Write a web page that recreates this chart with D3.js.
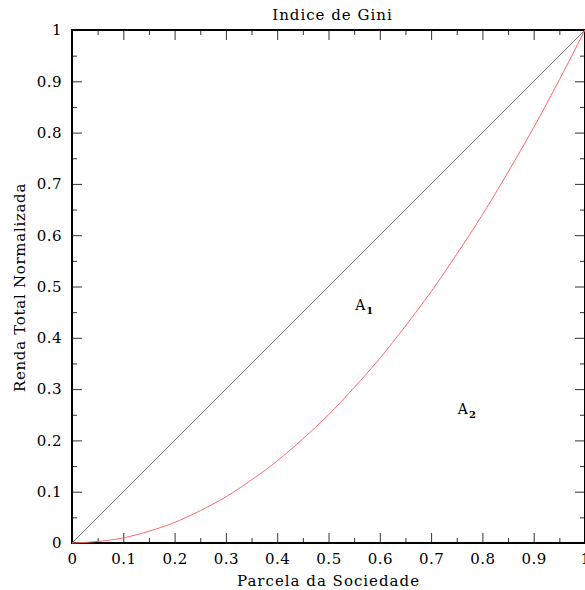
<!DOCTYPE html>
<html>
<head>
<meta charset="utf-8">
<script src="https://cdn.jsdelivr.net/npm/d3@7"></script>
<style>
  html, body { margin: 0; padding: 0; background: #fff; }
</style>
</head>
<body>
<svg id="chart" width="585" height="590"></svg>
<script>
// Cumulative share of population (x) and of total income (y)
const populationShare = [0, 0.05, 0.1, 0.15, 0.2, 0.25, 0.3, 0.35, 0.4, 0.45, 0.5,
                         0.55, 0.6, 0.65, 0.7, 0.75, 0.8, 0.85, 0.9, 0.95, 1];
const incomeShare = [0, 0.003, 0.01, 0.023, 0.04, 0.063, 0.09, 0.123, 0.16, 0.203, 0.25,
                     0.303, 0.36, 0.423, 0.49, 0.563, 0.64, 0.723, 0.81, 0.903, 1];
// Line of perfect equality
const equalityX = [0, 1];
const equalityY = [0, 1];

const majorTicks = [0, 0.1, 0.2, 0.3, 0.4, 0.5, 0.6, 0.7, 0.8, 0.9, 1];
const minorTicks = [0.05, 0.15, 0.25, 0.35, 0.45, 0.55, 0.65, 0.75, 0.85, 0.95];
const tickLabels = ["0", "0.1", "0.2", "0.3", "0.4", "0.5", "0.6", "0.7", "0.8", "0.9", "1"];

const areaLabels = [
  { name: "A", sub: "1", x: 0.552, y: 0.455 },
  { name: "A", sub: "2", x: 0.752, y: 0.252 }
];

const FONT = "'DejaVu Serif', serif";

const svg = d3.select("#chart");
const mLeft = 72, mRight = 585, mTop = 30, mBottom = 543;

const x = d3.scaleLinear().domain([0, 1]).range([mLeft, mRight]);
const y = d3.scaleLinear().domain([0, 1]).range([mBottom, mTop]);

const fmt = d => tickLabels[majorTicks.indexOf(d)];

function styleAxis(g, labels) {
  g.attr("font-family", null).attr("font-size", null);
  g.select(".domain").remove();
  g.selectAll(".tick line").attr("stroke", "#333").attr("stroke-width", 1);
  if (!labels) g.selectAll(".tick text").remove();
  else g.selectAll(".tick text")
    .style("font-family", FONT).style("font-size", "15px")
    .style("letter-spacing", "0.5px").attr("fill", "#000");
}

// Bottom axis
svg.append("g").attr("transform", `translate(0,${mBottom})`)
  .call(d3.axisBottom(x).tickValues(majorTicks).tickFormat(fmt).tickSizeInner(-10).tickSizeOuter(0).tickPadding(10))
  .call(g => styleAxis(g, true));
svg.append("g").attr("transform", `translate(0,${mBottom})`)
  .call(d3.axisBottom(x).tickValues(minorTicks).tickSizeInner(-5).tickSizeOuter(0))
  .call(g => styleAxis(g, false));
// Top axis
svg.append("g").attr("transform", `translate(0,${mTop})`)
  .call(d3.axisTop(x).tickValues(majorTicks).tickSizeInner(-10).tickSizeOuter(0))
  .call(g => styleAxis(g, false));
svg.append("g").attr("transform", `translate(0,${mTop})`)
  .call(d3.axisTop(x).tickValues(minorTicks).tickSizeInner(-5).tickSizeOuter(0))
  .call(g => styleAxis(g, false));
// Left axis
svg.append("g").attr("transform", `translate(${mLeft},0)`)
  .call(d3.axisLeft(y).tickValues(majorTicks).tickFormat(fmt).tickSizeInner(-10).tickSizeOuter(0).tickPadding(10))
  .call(g => styleAxis(g, true));
svg.append("g").attr("transform", `translate(${mLeft},0)`)
  .call(d3.axisLeft(y).tickValues(minorTicks).tickSizeInner(-5).tickSizeOuter(0))
  .call(g => styleAxis(g, false));
// Right axis
svg.append("g").attr("transform", `translate(${mRight},0)`)
  .call(d3.axisRight(y).tickValues(majorTicks).tickSizeInner(-10).tickSizeOuter(0))
  .call(g => styleAxis(g, false));
svg.append("g").attr("transform", `translate(${mRight},0)`)
  .call(d3.axisRight(y).tickValues(minorTicks).tickSizeInner(-5).tickSizeOuter(0))
  .call(g => styleAxis(g, false));

// Frame
svg.append("rect")
  .attr("x", mLeft).attr("y", mTop)
  .attr("width", mRight - mLeft).attr("height", mBottom - mTop)
  .attr("fill", "none").attr("stroke", "#000").attr("stroke-width", 2);

// Equality line
svg.append("path")
  .datum(equalityX.map((d, i) => [d, equalityY[i]]))
  .attr("fill", "none").attr("stroke", "#6e6e6e").attr("stroke-width", 1)
  .attr("d", d3.line().x(d => x(d[0])).y(d => y(d[1])));

// Lorenz curve
svg.append("path")
  .datum(populationShare.map((d, i) => [d, incomeShare[i]]))
  .attr("fill", "none").attr("stroke", "#ff6a6a").attr("stroke-width", 1)
  .attr("d", d3.line().x(d => x(d[0])).y(d => y(d[1])).curve(d3.curveMonotoneX));

// Area labels with subscripts
areaLabels.forEach(l => {
  const t = svg.append("text")
    .attr("x", x(l.x)).attr("y", y(l.y))
    .style("font-family", FONT).style("font-size", "14px");
  t.append("tspan").text(l.name);
  t.append("tspan").attr("dy", 4).attr("dx", 1).style("font-size", "10px")
    .style("font-weight", "bold").text(l.sub);
});

// Title and axis titles
svg.append("text")
  .attr("x", (mLeft + mRight) / 2 + 4).attr("y", 20)
  .attr("text-anchor", "middle")
  .style("font-family", FONT).style("font-size", "15px").style("letter-spacing", "1px")
  .text("Indice de Gini");

svg.append("text")
  .attr("x", (mLeft + mRight) / 2).attr("y", 586)
  .attr("text-anchor", "middle")
  .style("font-family", FONT).style("font-size", "15px").style("letter-spacing", "1px")
  .text("Parcela da Sociedade");

svg.append("text")
  .attr("transform", `translate(25,${(mTop + mBottom) / 2 + 1}) rotate(-90)`)
  .attr("text-anchor", "middle")
  .style("font-family", FONT).style("font-size", "15px").style("letter-spacing", "0.7px")
  .text("Renda Total Normalizada");
</script>
</body>
</html>
